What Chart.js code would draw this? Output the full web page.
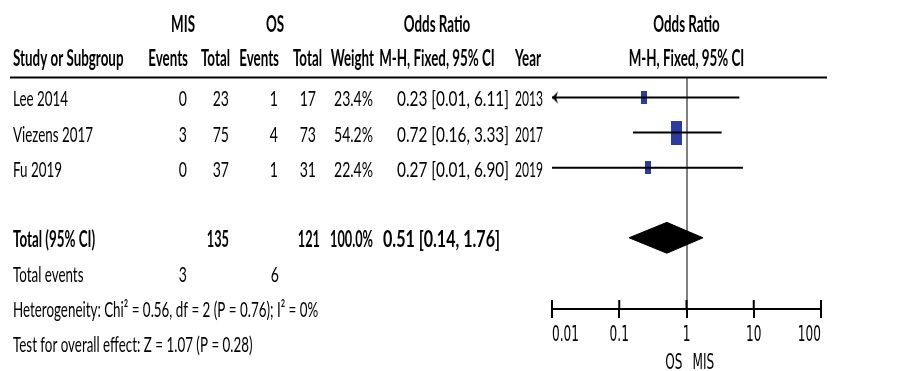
<!DOCTYPE html>
<html>
<head>
<meta charset="utf-8">
<script src="https://cdn.jsdelivr.net/npm/chart.js@4.4.1/dist/chart.umd.min.js"></script>
<style>
  html, body { margin: 0; padding: 0; background: #fff; }
  #wrap { width: 904px; height: 371px; }
</style>
</head>
<body>
<div id="wrap"><canvas id="forest" width="904" height="371"></canvas></div>
<script>
// data
var studies = ['Lee 2014', 'Viezens 2017', 'Fu 2019'];
var misEvents = [0, 3, 0];
var misTotal = [23, 75, 37];
var osEvents = [1, 4, 1];
var osTotal = [17, 73, 31];
var weights = [23.4, 54.2, 22.4];
var oddsRatio = [0.23, 0.72, 0.27];
var ciLow = [0.01, 0.16, 0.01];
var ciHigh = [6.11, 3.33, 6.90];
var years = [2013, 2017, 2019];
var runsOffLeft = [true, false, false];

var totalOR = [0.51, 0.14, 1.76];      // estimate, low, high
var totalParticipants = [135, 121];    // MIS, OS
var totalEvents = [3, 6];              // MIS, OS
var xTicks = [0.01, 0.1, 1, 10, 100];
var heterogeneity = 'Heterogeneity: Chi\u00b2 = 0.56, df = 2 (P = 0.76); I\u00b2 = 0%';
var overallEffect = 'Test for overall effect: Z = 1.07 (P = 0.28)';

var ROW_TOTAL = 4, ROW_EVENTS = 5, ROW_HET = 6, ROW_TEST = 7;
var ROW_HEAD1 = -2.12, ROW_HEAD2 = -1.154;
var BLUE = '#2a3ca0';
var FONT = 'Lato, "Liberation Sans", sans-serif';
var TICK_FONT = '"DejaVu Sans", sans-serif';
var SIZE = 22;

function fmtOR(v) { return v.toFixed(2); }
function ciText(e, l, h) { return fmtOR(e) + ' [' + fmtOR(l) + ', ' + fmtOR(h) + ']'; }

// weighted box as a canvas point style
function box(w) {
  var h = Math.round(5 + 0.35 * w);
  var c = document.createElement('canvas');
  c.width = Math.round(h * 0.47);
  c.height = h;
  var g = c.getContext('2d');
  g.fillStyle = BLUE;
  g.fillRect(0, 0, c.width, c.height);
  return c;
}

// left pointing arrow head, tip at the canvas centre
function arrowHead() {
  var c = document.createElement('canvas');
  c.width = 22; c.height = 14;
  var g = c.getContext('2d');
  g.fillStyle = '#000';
  g.beginPath();
  g.moveTo(11, 7);
  g.lineTo(17, 1);
  g.lineTo(15, 7);
  g.lineTo(17, 13);
  g.closePath();
  g.fill();
  return c;
}

var datasets = [];
studies.forEach(function (s, i) {
  datasets.push({
    type: 'scatter', showLine: true,
    data: [{x: ciLow[i], y: i}, {x: ciHigh[i], y: i}],
    borderColor: '#000', borderWidth: 2, pointRadius: 0, clip: false
  });
});
datasets.push({
  type: 'scatter',
  data: oddsRatio.map(function (v, i) { return {x: v, y: i}; }),
  pointStyle: weights.map(box),
  clip: false
});
datasets.push({
  type: 'scatter',
  data: ciLow.map(function (v, i) { return runsOffLeft[i] ? {x: v, y: i} : null; }).filter(Boolean),
  pointStyle: arrowHead(),
  clip: false
});
var dh = 0.44;
datasets.push({
  type: 'scatter', showLine: true, fill: 'shape',
  data: [
    {x: totalOR[1], y: ROW_TOTAL},
    {x: totalOR[0], y: ROW_TOTAL - dh},
    {x: totalOR[2], y: ROW_TOTAL},
    {x: totalOR[0], y: ROW_TOTAL + dh},
    {x: totalOR[1], y: ROW_TOTAL}
  ],
  borderColor: '#000', backgroundColor: '#000', borderWidth: 1, pointRadius: 0, clip: false
});

var tableText = {
  id: 'tableText',
  afterDraw: function (chart) {
    var ctx = chart.ctx;
    var xs = chart.scales.x, ys = chart.scales.y;
    ctx.save();

    // squeeze factors so the text matches the narrow original
    function fitK(sample, width, bold, fam, size) {
      ctx.font = (bold ? 'bold ' : '') + (size || SIZE) + 'px ' + (fam || FONT);
      return width / ctx.measureText(sample).width;
    }
    var kText = fitK('Lee 2014', 55);
    var kNum = fitK('23.4%', 39);
    var kOR = fitK('0.23 [0.01, 6.11]', 112);
    var kYear = fitK('2013', 28);
    var kBoldNum = fitK('100.0%', 43, true);
    var kBoldOR = fitK('0.51 [0.14, 1.76]', 117, true);
    var kTick = fitK('0.01', 27, false, TICK_FONT, 22);

    function txt(s, x, y, align, bold, k, fam, size) {
      ctx.save();
      ctx.font = (bold ? 'bold ' : '') + (size || SIZE) + 'px ' + (fam || FONT);
      k = k || kText;
      var w = ctx.measureText(s).width * k;
      var left = align === 'right' ? x - w : align === 'center' ? x - w / 2 : x;
      ctx.translate(left, y);
      ctx.scale(k, 1);
      ctx.fillStyle = '#000';
      ctx.textAlign = 'left';
      ctx.textBaseline = 'alphabetic';
      ctx.fillText(s, 0, 0);
      ctx.restore();
    }
    function rowY(v) { return ys.getPixelForValue(v) + 9; }

    // header
    var h1 = rowY(ROW_HEAD1), h2 = rowY(ROW_HEAD2);
    var p1 = xs.getPixelForValue(1);
    txt('MIS', 183, h1, 'center', true);
    txt('OS', 275, h1, 'center', true);
    txt('Odds Ratio', 437, h1, 'center', true);
    txt('Odds Ratio', p1, h1, 'center', true);
    txt('Study or Subgroup', 13, h2, 'left', true);
    txt('Events', 188, h2, 'right', true);
    txt('Total', 230, h2, 'right', true);
    txt('Events', 279, h2, 'right', true);
    txt('Total', 322, h2, 'right', true);
    txt('Weight', 374, h2, 'right', true);
    txt('M-H, Fixed, 95% CI', 437, h2, 'center', true);
    txt('Year', 541, h2, 'right', true);
    txt('M-H, Fixed, 95% CI', p1, h2, 'center', true);

    // header rule
    var top = chart.chartArea.top;
    ctx.strokeStyle = '#000';
    ctx.lineWidth = 2;
    ctx.beginPath();
    ctx.moveTo(10, top);
    ctx.lineTo(827, top);
    ctx.stroke();

    studies.forEach(function (s, i) {
      var y = rowY(i);
      txt(s, 13, y, 'left');
      txt(String(misEvents[i]), 187, y, 'right', false, kNum);
      txt(String(misTotal[i]), 229, y, 'right', false, kNum);
      txt(String(osEvents[i]), 278, y, 'right', false, kNum);
      txt(String(osTotal[i]), 316, y, 'right', false, kNum);
      txt(weights[i].toFixed(1) + '%', 373, y, 'right', false, kNum);
      txt(ciText(oddsRatio[i], ciLow[i], ciHigh[i]), 509, y, 'right', false, kOR);
      txt(String(years[i]), 543, y, 'right', false, kYear);
    });

    var yt = rowY(ROW_TOTAL);
    txt('Total (95% CI)', 13, yt, 'left', true);
    txt(String(totalParticipants[0]), 229, yt, 'right', true, kBoldNum);
    txt(String(totalParticipants[1]), 320, yt, 'right', true, kBoldNum);
    txt('100.0%', 373, yt, 'right', true, kBoldNum);
    txt(ciText(totalOR[0], totalOR[1], totalOR[2]), 500, yt, 'right', true, kBoldOR);

    var ye = rowY(ROW_EVENTS);
    txt('Total events', 13, ye, 'left');
    txt(String(totalEvents[0]), 187, ye, 'right', false, kNum);
    txt(String(totalEvents[1]), 279, ye, 'right', false, kNum);
    txt(heterogeneity, 13, rowY(ROW_HET), 'left');
    txt(overallEffect, 13, rowY(ROW_TEST), 'left');

    // upward half of the axis ticks and tick labels
    var axisY = chart.chartArea.bottom;
    ctx.lineWidth = 2;
    xTicks.forEach(function (v, i) {
      var px = xs.getPixelForValue(v);
      ctx.beginPath();
      ctx.moveTo(px, axisY - 9);
      ctx.lineTo(px, axisY);
      ctx.stroke();
      var al = i === 0 ? 'left' : i === xTicks.length - 1 ? 'right' : 'center';
      txt(String(v), px, axisY + 32, al, false, kTick, TICK_FONT, 22);
    });
    txt('OS', p1 - 4, axisY + 60, 'right', false, kTick, TICK_FONT, 22);
    txt('MIS', p1 + 6, axisY + 60, 'left', false, kTick, TICK_FONT, 22);
    ctx.restore();
  }
};

new Chart(document.getElementById('forest'), {
  type: 'scatter',
  data: { datasets: datasets },
  options: {
    responsive: false,
    animation: false,
    devicePixelRatio: 1,
    layout: { padding: { left: 552, right: 83, top: 77.5, bottom: 0 } },
    plugins: { legend: { display: false }, tooltip: { enabled: false } },
    scales: {
      x: {
        type: 'logarithmic', min: 0.01, max: 100,
        afterBuildTicks: function (s) { s.ticks = xTicks.map(function (v) { return {value: v}; }); },
        afterFit: function (s) { s.height = 62; },
        ticks: { display: false },
        border: { display: true, color: '#000', width: 2 },
        grid: {
          drawOnChartArea: true,
          color: function (c) { return c.tick && c.tick.value === 1 ? '#808080' : 'rgba(0,0,0,0)'; },
          lineWidth: 2,
          tickColor: '#000', tickWidth: 2, tickLength: 9
        }
      },
      y: { type: 'linear', reverse: true, min: -0.57, max: 6.03, display: false }
    }
  },
  plugins: [tableText]
});
</script>
</body>
</html>
